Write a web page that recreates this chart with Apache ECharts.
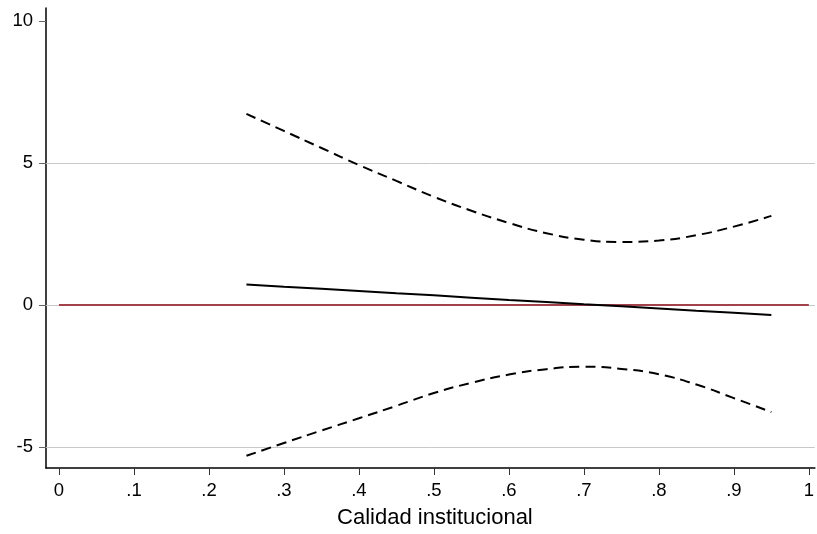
<!DOCTYPE html>
<html>
<head>
<meta charset="utf-8">
<script src="https://cdn.jsdelivr.net/npm/echarts@6/dist/echarts.min.js"></script>
<style>
  html, body { margin: 0; padding: 0; background: #fff; }
  #chart { width: 817px; height: 534px; }
</style>
</head>
<body>
<div id="chart"></div>
<script>
// data
const calidad = [0.25, 0.30, 0.35, 0.40, 0.45, 0.50, 0.55, 0.60, 0.65, 0.70, 0.75, 0.80, 0.85, 0.90, 0.95];
const efecto  = [0.72, 0.64, 0.57, 0.49, 0.41, 0.34, 0.26, 0.18, 0.11, 0.03, -0.04, -0.12, -0.20, -0.27, -0.35];
const superior = [6.73, 6.13, 5.53, 4.93, 4.37, 3.81, 3.32, 2.89, 2.53, 2.30, 2.22, 2.27, 2.46, 2.76, 3.14];
const inferior = [-5.31, -4.86, -4.42, -3.99, -3.55, -3.10, -2.74, -2.45, -2.26, -2.17, -2.25, -2.44, -2.80, -3.28, -3.77];
const refX = [0, 1];
const refY = [0, 0];
const xTicks = [0, 0.1, 0.2, 0.3, 0.4, 0.5, 0.6, 0.7, 0.8, 0.9, 1];
const xTickLabels = ['0', '.1', '.2', '.3', '.4', '.5', '.6', '.7', '.8', '.9', '1'];
const yTicks = [-5, 0, 5, 10];
const yGrid = [-5, 0, 5];

const pairs = (xs, ys) => xs.map((x, i) => [x, ys[i]]);
const font = 'Liberation Sans, Arial, sans-serif';

const chart = echarts.init(document.getElementById('chart'));
chart.setOption({
  animation: false,
  grid: { left: 46, right: 0, top: 8, bottom: 66 },
  xAxis: {
    type: 'value',
    min: -0.0173,
    max: 1.008,
    name: 'Calidad institucional',
    nameLocation: 'middle',
    nameGap: 39,
    nameTextStyle: { fontFamily: font, fontSize: 22, color: '#000', padding: [0, 0, 0, 9] },
    axisLine: { show: true, onZero: false, lineStyle: { color: '#000', width: 1.5 } },
    axisTick: { show: true, customValues: xTicks, length: 7, lineStyle: { color: '#333' } },
    axisLabel: {
      customValues: xTicks,
      margin: 13,
      fontFamily: font, fontSize: 18.5, color: '#000',
      formatter: v => xTickLabels[xTicks.findIndex(t => Math.abs(t - v) < 1e-6)]
    },
    splitLine: { show: false }
  },
  yAxis: {
    type: 'value',
    min: -5.74,
    max: 10.46,
    axisLine: { show: true, onZero: false, lineStyle: { color: '#000', width: 1.5 } },
    axisTick: { show: true, customValues: yTicks, length: 7, lineStyle: { color: '#666' } },
    axisLabel: { customValues: yTicks, margin: 13, fontFamily: font, fontSize: 18.5, color: '#000' },
    splitLine: { show: false }
  },
  series: [
    {
      type: 'line',
      data: pairs(refX, refY),
      showSymbol: false,
      lineStyle: { color: '#a2434c', width: 2 },
      z: 3,
      markLine: {
        silent: true,
        symbol: 'none',
        label: { show: false },
        lineStyle: { color: '#c8c8c8', width: 1, type: 'solid' },
        data: yGrid.map(v => ({ yAxis: v })),
        z: 1
      }
    },
    {
      type: 'line',
      data: pairs(calidad, superior),
      smooth: true,
      showSymbol: false,
      lineStyle: { color: '#000', width: 2, type: [10, 6] },
      z: 4
    },
    {
      type: 'line',
      data: pairs(calidad, inferior),
      smooth: true,
      showSymbol: false,
      lineStyle: { color: '#000', width: 2, type: [10, 6] },
      z: 4
    },
    {
      type: 'line',
      data: pairs(calidad, efecto),
      showSymbol: false,
      lineStyle: { color: '#000', width: 2 },
      z: 5
    }
  ]
});
</script>
</body>
</html>
